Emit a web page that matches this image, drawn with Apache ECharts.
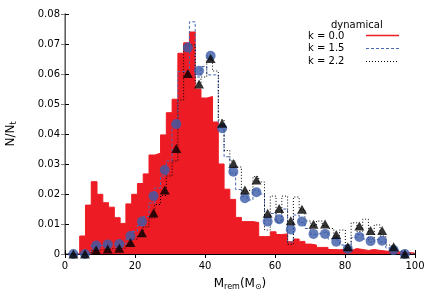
<!DOCTYPE html>
<html><head><meta charset="utf-8">
<script src="https://cdn.jsdelivr.net/npm/echarts@6/dist/echarts.min.js"></script>
<style>html,body{margin:0;padding:0;background:#fff}#c{width:436px;height:305px}</style>
</head><body><div id="c"></div>
<script>
// fine histogram bins (left edge of first bin, width)
const binStart = 0.9, binWidth = 1.65;
const redK00 = [0,0,0.006,0.0163,0.0241,0.0199,0.0171,0.0156,0.0121,0.0102,
  0.0167,0.0199,0.0235,0.0267,0.033,0.0336,0.0397,0.0471,0.0516,0.0669,
  0.0704,0.074,0.055,0.052,0.0525,0.044,0.030,0.0216,0.0182,0.0122,
  0.0108,0.0108,0.0105,0.0058,0.0058,0.0074,0.0065,0.0067,0.0041,0.005,
  0.0042,0.0033,0.003,0.0022,0.0022,0.0015,0.0014,0.0015,0.0012,0.0018,
  0.0015,0.0012,0.0015,0.0012,0.001,0.0008,0.0008,0.0005,0.0005,0.0003];
const blueK15 = [0,0,0,0,0.0028,0.0028,0.003,0.0034,0.0033,0.0033,
  0.005,0.0075,0.0095,0.0125,0.017,0.022,0.026,0.031,0.0436,0.0608,
  0.0608,0.0774,0.059,0.0625,0.0597,0.0597,0.042,0.0324,0.027,0.0215,
  0.0191,0.018,0.0213,0.02,0.012,0.0135,0.0105,0.015,0.004,0.013,
  0.0105,0.0085,0.0065,0.007,0.0075,0.005,0.0045,0.003,0.0015,0.0055,
  0.0065,0.005,0.004,0.0048,0.004,0.002,0.001,0.0008,0,0];
const blackK22 = [0,0,0,0,0.0012,0.0014,0.0016,0.0018,0.0018,0.002,
  0.003,0.005,0.006,0.009,0.012,0.0165,0.0195,0.026,0.031,0.0513,
  0.0697,0.0697,0.057,0.059,0.066,0.061,0.0447,0.0345,0.031,0.029,
  0.021,0.0215,0.0258,0.024,0.008,0.0193,0.011,0.0193,0.0032,0.019,
  0.0149,0.011,0.0095,0.011,0.0095,0.0085,0.006,0.008,0.001,0.0104,
  0.0075,0.0116,0.005,0.0097,0.006,0.003,0.002,0.001,0,0];
// coarse bins (markers)
const markerX = [2.4,5.7,8.9,12.2,15.5,18.7,22.0,25.3,28.5,31.8,35.1,38.3,41.6,44.9,48.1,
  51.4,54.7,57.9,61.2,64.5,67.7,71.0,74.3,77.5,80.8,84.1,87.3,90.6,93.9,97.1];
const circleK15 = [0,0,0.0028,0.0032,0.0033,0.006,0.0108,0.0193,0.028,0.0433,
  0.0688,0.0611,0.0661,0.0419,0.0274,0.0186,0.0206,0.0108,0.0116,0.0082,
  0.0108,0.0067,0.0067,0.0041,0.0017,0.0057,0.0043,0.0044,0.0013,0];
const triangleK22 = [0,0,0.0013,0.0017,0.0019,0.0038,0.0071,0.0137,0.0213,0.0352,
  0.0602,0.0567,0.0652,0.0436,0.0302,0.0213,0.0247,0.0136,0.0152,0.0111,
  0.0149,0.0099,0.01,0.0065,0.0024,0.0093,0.0078,0.0078,0.0024,0];
const seriesNames = ['k = 0.0','k = 1.5','k = 2.2'];
const legendTitle = 'dynamical';

function stepData(vals){
  const d=[[binStart,0]];
  vals.forEach((v,i)=>d.push([binStart+i*binWidth, v]));
  const end = binStart+vals.length*binWidth;
  d.push([end, vals[vals.length-1]]);
  d.push([end, 0]);
  return d;
}
const RED='#ED1C24', BLUE='#3B5BA8', BLUEL='#4A68B4';
const FONT='DejaVu Sans';
const chart = echarts.init(document.getElementById('c'), null, {renderer:'canvas'});
const axBase = {type:'value', min:0, max:100, interval:20};
chart.setOption({
  animation:false,
  backgroundColor:'#fff',
  grid:{left:65, right:21, top:14, bottom:51, containLabel:false, outerBoundsMode:'none'},
  xAxis:[
    Object.assign({}, axBase, {position:'bottom',
      name:'M{sub|rem}(M{sub|⊙})', nameLocation:'middle', nameGap:23,
      nameTextStyle:{fontFamily:FONT, fontSize:12, color:'#000',
        rich:{sub:{fontFamily:FONT, fontSize:8, verticalAlign:'bottom', padding:[6,0,0,0]}}},
      axisLine:{lineStyle:{color:'#808080', width:1.5}},
      axisTick:{inside:true, length:4, lineStyle:{color:'#000'}},
      axisLabel:{fontFamily:FONT, fontSize:10, color:'#000', margin:7},
      splitLine:{show:false}}),
    Object.assign({}, axBase, {position:'top',
      axisLine:{lineStyle:{color:'#000', width:1}},
      axisTick:{inside:true, length:4, lineStyle:{color:'#000'}},
      axisLabel:{show:false}, splitLine:{show:false}})
  ],
  yAxis:[
    {type:'value', min:0, max:0.08, interval:0.01, position:'left',
      name:'N/N{sub|t}', nameLocation:'middle', nameGap:47, nameRotate:90,
      nameTextStyle:{fontFamily:FONT, fontSize:12, color:'#000',
        rich:{sub:{fontFamily:FONT, fontSize:8, padding:[6,0,0,0]}}},
      axisLine:{show:true, lineStyle:{color:'#000', width:1}},
      axisTick:{show:true, inside:true, length:4, lineStyle:{color:'#000'}},
      axisLabel:{fontFamily:FONT, fontSize:10, color:'#000', margin:5},
      splitLine:{show:false}},
    {type:'value', min:0, max:0.08, interval:0.01, position:'right',
      axisLine:{show:true, lineStyle:{color:'#808080', width:1.5}},
      axisTick:{show:true, inside:true, length:4, lineStyle:{color:'#808080'}},
      axisLabel:{show:false}, splitLine:{show:false}}
  ],
  series:[
    {name:seriesNames[0], type:'line', step:'end', data:stepData(redK00),
      symbol:'none', lineStyle:{color:RED, width:1}, areaStyle:{color:RED, opacity:1}, z:2},
    {name:seriesNames[1], type:'line', step:'end', data:stepData(blueK15),
      symbol:'none', lineStyle:{color:BLUEL, width:1, type:[3,2]}, z:3},
    {name:seriesNames[2], type:'line', step:'end', data:stepData(blackK22),
      symbol:'none', lineStyle:{color:'#000', width:1, type:[1,2]}, z:3},
    {type:'scatter', data:markerX.map((x,i)=>[x,circleK15[i]]), symbol:'circle', symbolSize:10,
      itemStyle:{color:BLUE}, clip:false, z:4},
    {type:'scatter', data:markerX.map((x,i)=>[x,triangleK22[i]]), symbol:'triangle', symbolSize:[10,9],
      itemStyle:{color:'#000'}, clip:false, z:5}
  ],
  graphic:[
    {type:'text', left:331, top:20, style:{text:legendTitle, font:'10px "DejaVu Sans"', fill:'#000'}},
    {type:'text', left:308, top:31, style:{text:seriesNames[0], font:'10px "DejaVu Sans"', fill:'#000'}},
    {type:'text', left:308, top:43.5, style:{text:seriesNames[1], font:'10px "DejaVu Sans"', fill:'#000'}},
    {type:'text', left:308, top:56, style:{text:seriesNames[2], font:'10px "DejaVu Sans"', fill:'#000'}},
    {type:'line', shape:{x1:366,y1:35.5,x2:399,y2:35.5}, style:{stroke:RED, lineWidth:1.5}},
    {type:'line', shape:{x1:366,y1:48.5,x2:399,y2:48.5}, style:{stroke:BLUEL, lineWidth:1, lineDash:[3,2]}},
    {type:'line', shape:{x1:366,y1:61.5,x2:399,y2:61.5}, style:{stroke:'#000', lineWidth:1, lineDash:[1,2]}}
  ]
});
</script></body></html>
